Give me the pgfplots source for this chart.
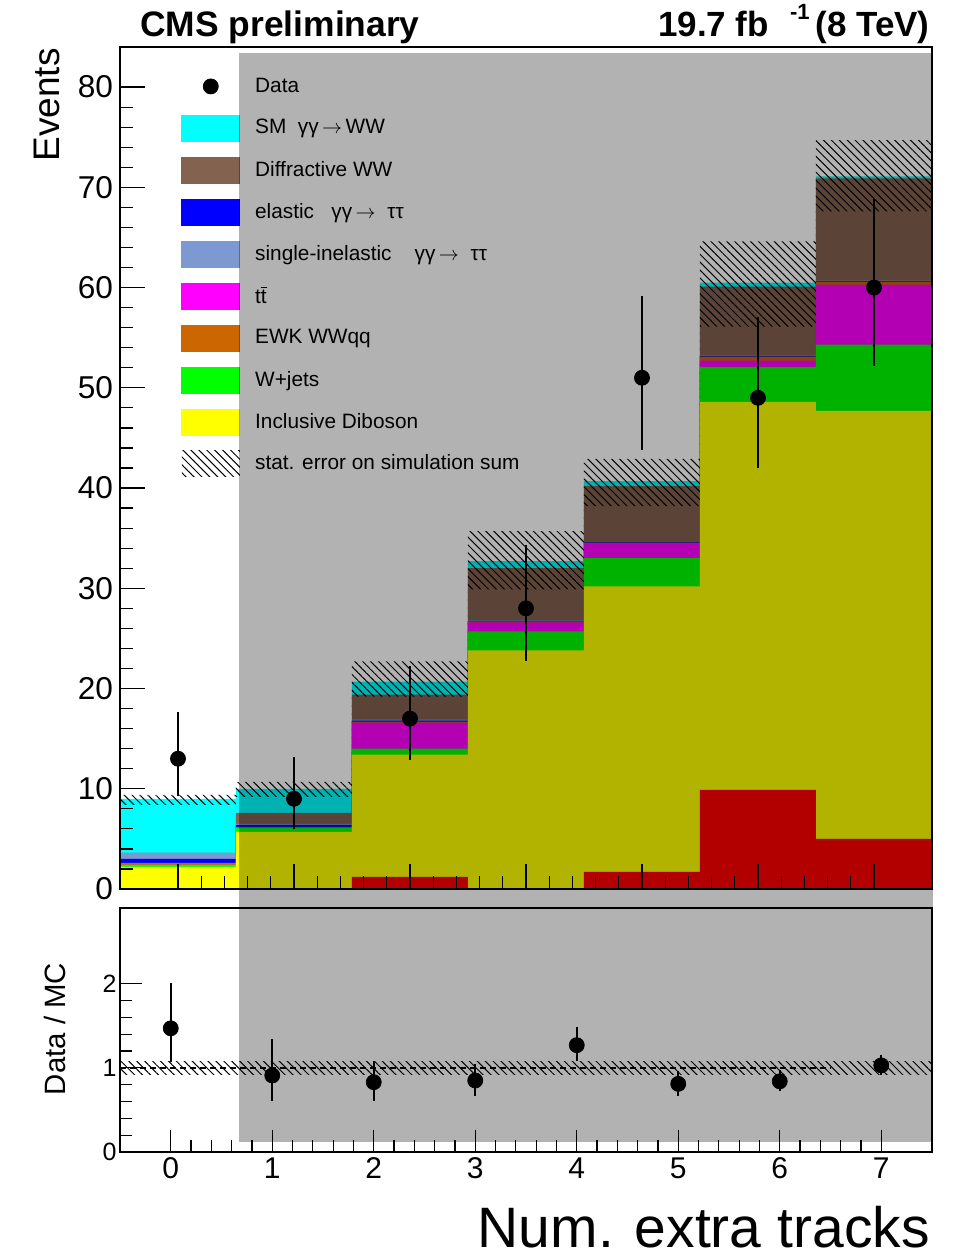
\documentclass[border=0pt]{standalone}
\usepackage{fontspec}
\setmainfont{Liberation Sans}
\usepackage{pgfplots}
\pgfplotsset{compat=1.18}
\usepackage{pgfplotstable}
\usetikzlibrary{patterns.meta}
\definecolor{diffbrown}{RGB}{131,98,80}
\definecolor{ewkorange}{RGB}{204,102,0}
\definecolor{silblue}{RGB}{125,153,209}
\definecolor{smcyan}{RGB}{0,255,255}
\definecolor{ttmagenta}{RGB}{255,0,255}
\definecolor{dibyellow}{RGB}{255,255,0}
\definecolor{wjgreen}{RGB}{0,255,0}
\definecolor{elblue}{RGB}{0,0,255}
\definecolor{xred}{RGB}{255,0,0}
\newcommand\legbox[1]{\addlegendimage{legend image code/.code={\fill[#1] (0pt,-6.5pt) rectangle (29pt,6.5pt);}}}
\tikzset{hatchstyle/.style={draw=none, pattern={Lines[angle=-45,distance=2.8pt,line width=0.5pt]}, pattern color=black, fill opacity=0.21}}

% cumulative stack heights, rows at bin left edges (last row repeats last bin)
\pgfplotstableread{
x     dib   wj    tt    ewk   el    si    diff  sm    red
-0.5  2.2   2.4   2.4   2.6   3.0   3.6   3.6   9.0   0
0.5   5.7   6.1   6.15  6.2   6.4   6.5   7.6   10.0  0
1.5   13.4  14.0  16.6  16.7  16.8  16.9  19.4  20.7  1.2
2.5   23.8  25.7  26.6  26.7  26.75 26.8  32.0  32.7  0
3.5   30.2  33.0  34.5  34.55 34.65 34.7  40.2  40.7  1.7
4.5   48.6  52.1  52.7  53.1  53.15 53.2  60.1  60.5  9.9
5.5   47.7  54.3  60.3  60.6  60.65 60.7  70.9  71.1  5.0
6.5   47.7  54.3  60.3  60.6  60.65 60.7  70.9  71.1  5.0
}\stack

\pgfplotstableread{
x y  ep  em
0 13 4.7 3.7
1 9  4.2 3.0
2 17 5.2 4.1
3 28 6.3 5.3
4 51 8.2 7.2
5 49 8.1 7.0
6 60 8.8 7.8
}\data

\pgfplotstableread{
x y    ep   em
0 1.47 0.54 0.40
1 0.91 0.43 0.30
2 0.83 0.25 0.22
3 0.85 0.20 0.18
4 1.27 0.22 0.19
5 0.81 0.15 0.14
6 0.84 0.14 0.11
7 1.03 0.12 0.11
}\ratio

\begin{document}
\begin{tikzpicture}
\path[use as bounding box] (0pt,0pt) rectangle (477.5pt,-628.5pt);
\begin{axis}[
  at={(60pt,-444.5pt)}, anchor=south west,
  scale only axis, width=406pt, height=421pt,
  xmin=-0.5, xmax=6.5, ymin=0, ymax=84,
  xtick={0,...,6}, xticklabels={,,,,,,}, minor x tick num=4,
  ytick={0,10,...,80}, minor y tick num=4,
  tick pos=left,
  major tick length=12.5pt, minor tick length=6.5pt,
  axis on top, clip=false,
  axis line style={line width=0.6pt},
  tick style={line width=0.6pt, black},
  /pgf/number format/assume math mode=true,
  yticklabel style={font=\fontsize{15.8}{16}\selectfont},
  ylabel={Events},
  ylabel style={at={(axis description cs:-0.0899,0.999)}, anchor=east, inner sep=0pt, font=\fontsize{18.5}{19}\selectfont},
  legend cell align=left,
  legend style={draw=none, fill=none, at={(0.0751,0.9691)}, anchor=north west,
     inner sep=0pt, row sep=7.6pt, column sep=7.5pt, nodes={inner sep=0pt},
     font=\fontsize{10.4}{12}\selectfont},
]
\addplot[const plot, fill=smcyan, draw=none, forget plot] table[x=x,y=sm]{\stack} \closedcycle;
\addplot[const plot, fill=diffbrown, draw=none, forget plot] table[x=x,y=diff]{\stack} \closedcycle;
\addplot[const plot, fill=silblue, draw=none, forget plot] table[x=x,y=si]{\stack} \closedcycle;
\addplot[const plot, fill=elblue, draw=none, forget plot] table[x=x,y=el]{\stack} \closedcycle;
\addplot[const plot, fill=ewkorange, draw=none, forget plot] table[x=x,y=ewk]{\stack} \closedcycle;
\addplot[const plot, fill=ttmagenta, draw=none, forget plot] table[x=x,y=tt]{\stack} \closedcycle;
\addplot[const plot, fill=wjgreen, draw=none, forget plot] table[x=x,y=wj]{\stack} \closedcycle;
\addplot[const plot, fill=dibyellow, draw=none, forget plot] table[x=x,y=dib]{\stack} \closedcycle;
\addplot[const plot, fill=xred, draw=none, forget plot] table[x=x,y=red]{\stack} \closedcycle;
\addplot[hatchstyle, forget plot] coordinates {
 (-0.5,9.4) (0.5,9.4) (0.5,10.7) (1.5,10.7) (1.5,22.7) (2.5,22.7) (2.5,35.7) (3.5,35.7)
 (3.5,42.9) (4.5,42.9) (4.5,64.6) (5.5,64.6) (5.5,74.7) (6.5,74.7)
 (6.5,67.6) (5.5,67.6) (5.5,56.1) (4.5,56.1) (4.5,38.2) (3.5,38.2) (3.5,29.9) (2.5,29.9)
 (2.5,19.2) (1.5,19.2) (1.5,9.2) (0.5,9.2) (0.5,8.4) (-0.5,8.4)} -- cycle;
\addplot[only marks, mark=*, mark size=3.75pt, black, forget plot,
  error bars/.cd, y dir=both, y explicit, error mark=none,
  error bar style={line width=1pt, black}]
  table[x=x, y=y, y error plus=ep, y error minus=em]{\data};

\addlegendimage{legend image code/.code={\path[draw=none,fill=none] (0pt,-6.5pt) rectangle (29pt,6.5pt); \fill[black] (14.5pt,0pt) circle (3.75pt);}}
\addlegendentry{Data}
\legbox{smcyan}
\addlegendentry{SM~~γγ\,$\rightarrow$\,WW}
\legbox{diffbrown}
\addlegendentry{Diffractive WW}
\legbox{elblue}
\addlegendentry{elastic~~~γγ\,$\rightarrow$~~ττ}
\legbox{silblue}
\addlegendentry{single-inelastic~~~~γγ\,$\rightarrow$~~ττ}
\legbox{ttmagenta}
\addlegendentry{t$\overline{\mbox{t}}$}
\legbox{ewkorange}
\addlegendentry{EWK WWqq}
\legbox{wjgreen}
\addlegendentry{W+jets}
\legbox{dibyellow}
\addlegendentry{Inclusive Diboson}
\legbox{hatchstyle}
\addlegendentry{stat. error on simulation sum}

\node[anchor=base west, inner sep=0pt, font=\bfseries\fontsize{17.7}{18}\selectfont]
  at (axis description cs:0.0246,1.0119) {CMS preliminary};
\node[anchor=base east, inner sep=0pt, font=\bfseries\fontsize{17.5}{18}\selectfont]
  at (axis description cs:0.9975,1.0119) {19.7 fb\hspace{0.6em}\raisebox{0.5em}{\fontsize{11}{11}\selectfont -1}\,(8 TeV)};
\end{axis}

\begin{axis}[
  at={(60pt,-576pt)}, anchor=south west,
  scale only axis, width=406pt, height=122pt,
  xmin=-0.5, xmax=7.5, ymin=0, ymax=2.9,
  xtick={0,...,7}, minor x tick num=4,
  ytick={0,1,2}, minor y tick num=4,
  tick pos=left,
  major tick length=11pt, minor tick length=5.8pt,
  axis on top, clip=false,
  axis line style={line width=0.6pt},
  tick style={line width=0.6pt, black},
  /pgf/number format/assume math mode=true,
  xticklabel style={font=\fontsize{15}{15}\selectfont, inner sep=2.5pt},
  yticklabel style={font=\fontsize{12.5}{13}\selectfont, inner sep=1.5pt},
  ylabel={Data / MC},
  ylabel style={at={(axis description cs:-0.08,0.504)}, anchor=center, inner sep=0pt, font=\fontsize{14.7}{15}\selectfont},
  xlabel={Num. extra tracks},
  xlabel style={at={(axis description cs:0.9975,-0.39)}, anchor=base east, inner sep=0pt, font=\fontsize{28.5}{29}\selectfont},
]
\addplot[hatchstyle] coordinates {(-0.5,0.92) (7.5,0.92) (7.5,1.08) (-0.5,1.08)} -- cycle;
\addplot[black, line width=0.7pt, dash pattern=on 3pt off 2pt] coordinates {(-0.5,1) (6.5,1)};
\addplot[only marks, mark=*, mark size=3.75pt, black,
  error bars/.cd, y dir=both, y explicit, error mark=none,
  error bar style={line width=1pt, black}]
  table[x=x, y=y, y error plus=ep, y error minus=em]{\ratio};
\end{axis}

% grey shading of the region beyond the first bin
\fill[black, fill opacity=0.3] (119.35pt,-26.5pt) rectangle (466.5pt,-571pt);
\end{tikzpicture}
\end{document}
